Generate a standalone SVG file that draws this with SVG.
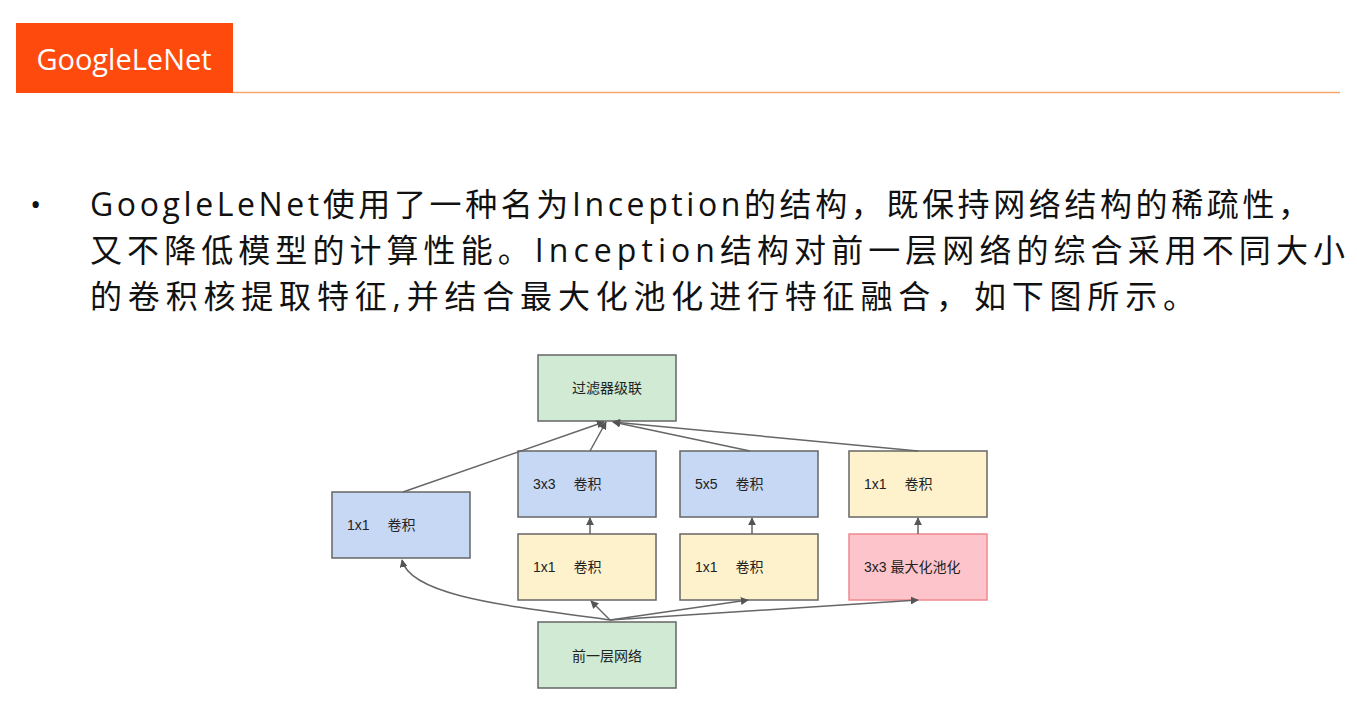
<svg xmlns="http://www.w3.org/2000/svg" width="1357" height="710" viewBox="0 0 1357 710">
<defs>
<marker id="ah" viewBox="0 0 10 10" refX="9" refY="5" markerWidth="8" markerHeight="8" markerUnits="userSpaceOnUse" orient="auto"><path d="M0,0 L10,5 L0,10 z" fill="#555"/></marker>
</defs>
<style>
.cjk{font-family:"Open Sans","Noto Sans CJK SC",sans-serif}
.t{font-family:"Liberation Sans","Noto Sans CJK SC",sans-serif;font-size:14px;fill:#222}
.b{stroke:#666;stroke-width:1.5}
.c{fill:none;stroke:#666;stroke-width:1.5;marker-end:url(#ah)}
</style>
<rect width="1357" height="710" fill="#fff"/>
<rect x="16" y="23" width="217" height="70" fill="#ff4a0e"/>
<text x="124" y="70" text-anchor="middle" class="cjk" font-size="29" fill="#fff">GoogleLeNet</text>
<line x1="233" y1="92.5" x2="1340" y2="92.5" stroke="#f7a66d" stroke-width="1.5"/>
<text x="30" y="215" class="cjk" font-size="30" fill="#111">•</text>
<text class="cjk" font-size="32" fill="#111"><tspan x="90" y="216" textLength="1220" lengthAdjust="spacing">GoogleLeNet使用了一种名为Inception的结构，既保持网络结构的稀疏性，</tspan><tspan x="90" y="262" textLength="1255" lengthAdjust="spacing">又不降低模型的计算性能。Inception结构对前一层网络的综合采用不同大小</tspan><tspan x="90" y="308" textLength="1105" lengthAdjust="spacing">的卷积核提取特征,并结合最大化池化进行特征融合，如下图所示。</tspan></text>
<g id="top"><rect class="b" x="538" y="355" width="138" height="66" fill="#d0ead3"/><text class="t" x="607" y="393" text-anchor="middle" font-size="15">过滤器级联</text></g>
<g id="c1"><rect class="b" x="332" y="492" width="138" height="66" fill="#c7d8f5"/><text class="t" x="347" y="530">1x1　  卷积</text></g>
<g id="c3"><rect class="b" x="518" y="451" width="138" height="66" fill="#c7d8f5"/><text class="t" x="533" y="489">3x3　  卷积</text></g>
<g id="c5"><rect class="b" x="680" y="451" width="138" height="66" fill="#c7d8f5"/><text class="t" x="695" y="489">5x5　  卷积</text></g>
<g id="c1p"><rect class="b" x="849" y="451" width="138" height="66" fill="#fef2cc"/><text class="t" x="864" y="489">1x1　  卷积</text></g>
<g id="r3"><rect class="b" x="518" y="534" width="138" height="66" fill="#fef2cc"/><text class="t" x="533" y="572">1x1　  卷积</text></g>
<g id="r5"><rect class="b" x="680" y="534" width="138" height="66" fill="#fef2cc"/><text class="t" x="695" y="572">1x1　  卷积</text></g>
<g id="pool"><rect x="849" y="534" width="138" height="66" fill="#fdc5cb" stroke="#ee8890" stroke-width="1.5"/><text class="t" x="864" y="572">3x3  最大化池化</text></g>
<g id="prev"><rect class="b" x="538" y="622" width="138" height="66" fill="#d0ead3"/><text class="t" x="607" y="661" text-anchor="middle" font-size="15">前一层网络</text></g>
<g id="connectors">
<path class="c" d="M403,492 L604,422"/>
<path class="c" d="M590,451 L606,422"/>
<path class="c" d="M750,451 L613,422"/>
<path class="c" d="M918,451 L613,422"/>
<path class="c" d="M610,620 C500,605 410,595 402,560"/>
<path class="c" d="M610,620 L591,601"/>
<path class="c" d="M610,620 L748,600"/>
<path class="c" d="M610,620 L918,600"/>
<path class="c" d="M590,534 L590,518"/>
<path class="c" d="M752,534 L752,518"/>
<path class="c" d="M918,534 L918,518"/>
</g>
</svg>
